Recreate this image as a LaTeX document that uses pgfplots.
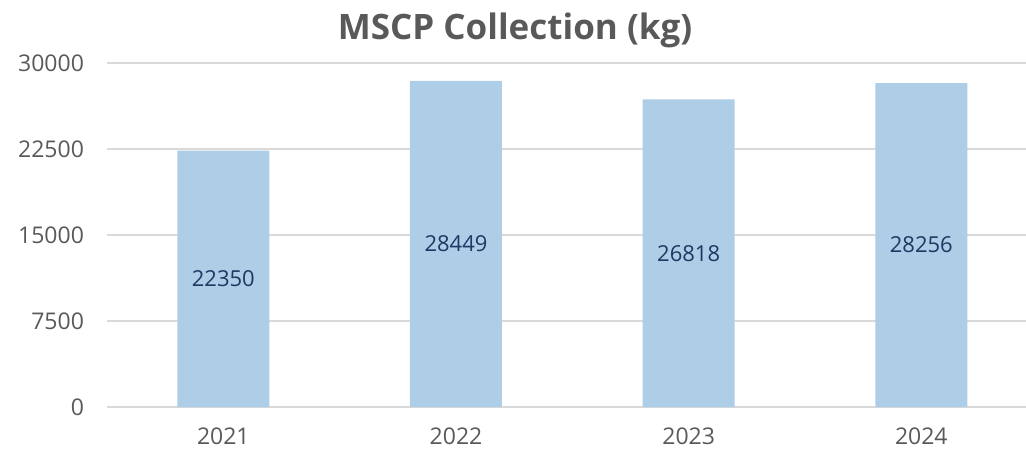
\documentclass[border=0pt]{standalone}
\usepackage{fontspec}
\setmainfont{Open Sans}
\usepackage{pgfplots}
\pgfplotsset{compat=1.18}
\definecolor{barblue}{HTML}{AECDE6}
\definecolor{gridgray}{HTML}{D9D9D9}
\definecolor{txtgray}{HTML}{595959}
\definecolor{lblblue}{HTML}{203864}
\begin{document}
\begin{tikzpicture}
\begin{axis}[
  name=ax,
  at={(0,0)}, anchor=south west,
  scale only axis,
  width=459.5pt, height=172pt,
  xmin=-0.5, xmax=3.45,
  ymin=0, ymax=30000,
  ytick={0,7500,15000,22500,30000},
  scaled y ticks=false,
  xtick={0,1,2,3},
  xticklabels={2021,2022,2023,2024},
  ymajorgrids,
  grid style={gridgray, line width=0.8pt},
  axis line style={draw=none},
  major tick length=0pt,
  tick label style={font=\fontsize{11.5}{13}\selectfont, text=txtgray},
  /pgf/number format/assume math mode=true,
  /pgf/number format/1000 sep={},
  yticklabel style={anchor=east, xshift=-8pt},
  xticklabel style={anchor=north, yshift=-7pt},
  title={\textbf{MSCP Collection (kg)}},
  title style={at={(0.444,1)}, anchor=base, yshift=6pt, font=\fontsize{17.5}{20}\selectfont, text=txtgray},
  clip=false,
]
\addplot[ybar, bar shift=0pt, bar width=46pt, fill=barblue, draw=none] coordinates {
  (0,22350) (1,28449) (2,26818) (3,28256)
};
\addplot[draw=none, mark=none, nodes near coords, point meta=explicit symbolic,
  every node near coord/.append style={anchor=center, font=\fontsize{11}{13}\selectfont, text=lblblue}]
  table[x=x, y expr=\thisrow{v}/2, meta=v] {
x v
0 22350
1 28449
2 26818
3 28256
};
\end{axis}
\pgfresetboundingbox
\path (ax.south west) ++(-53.5pt,-21.5pt) rectangle ++(513pt,225pt);
\end{tikzpicture}
\end{document}
